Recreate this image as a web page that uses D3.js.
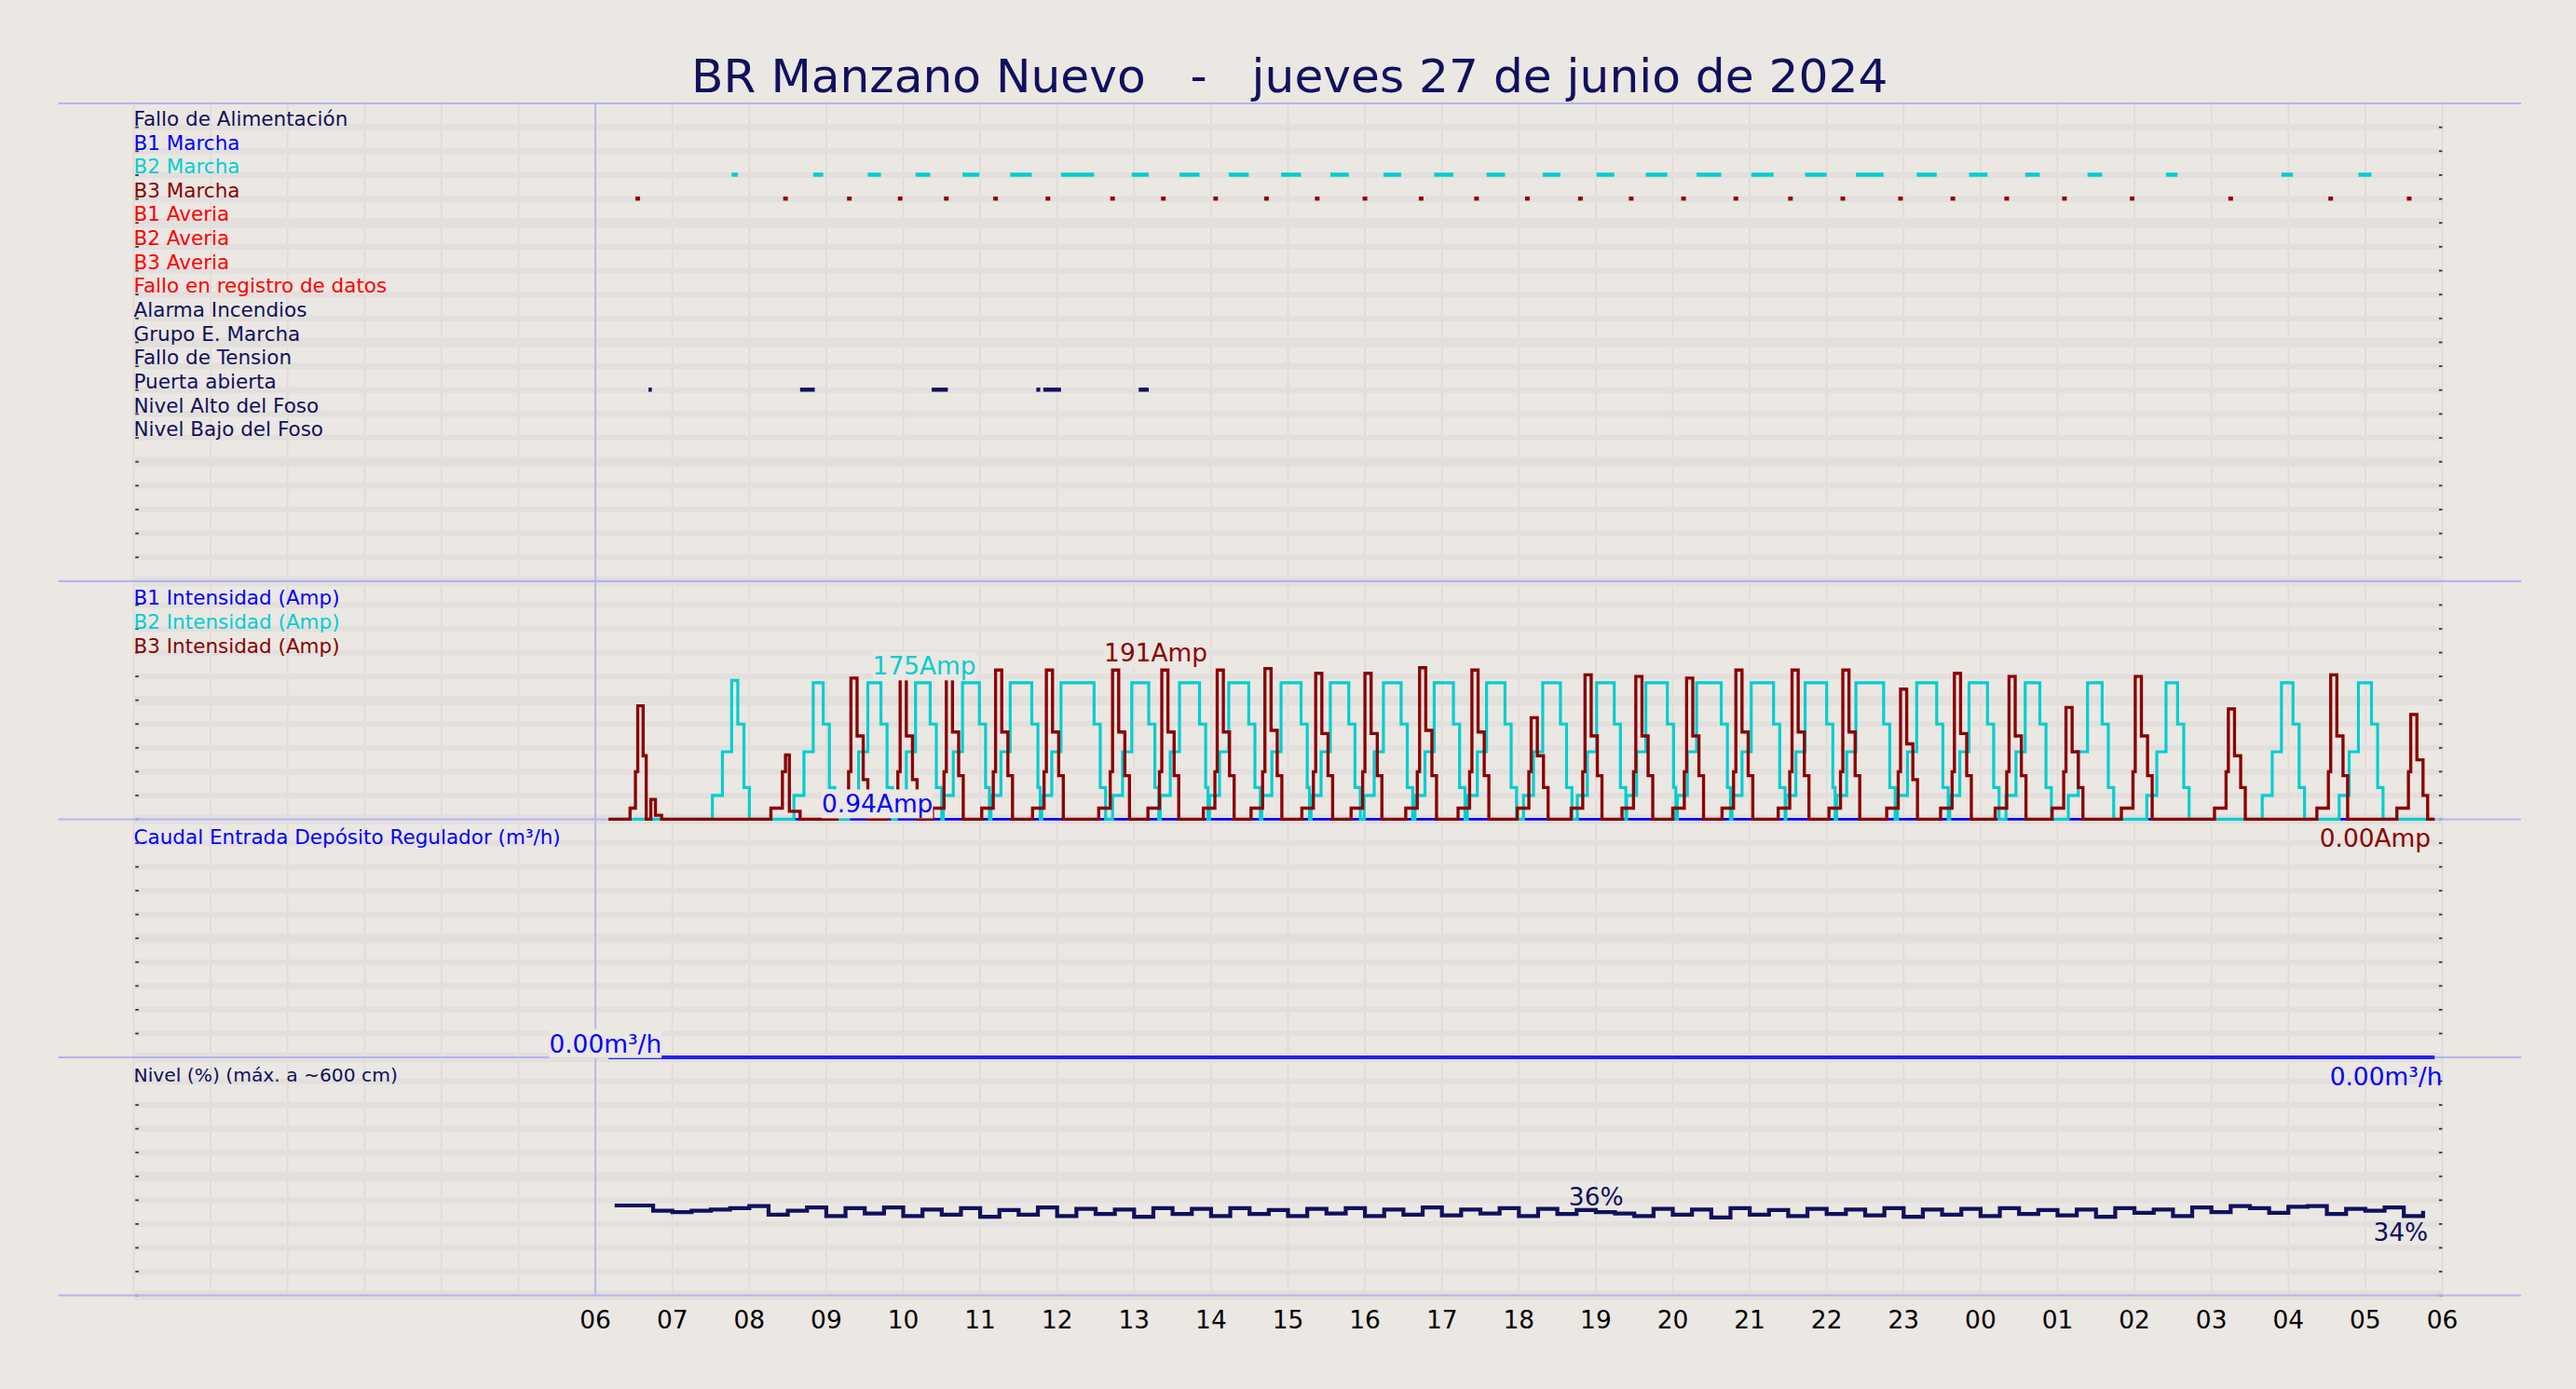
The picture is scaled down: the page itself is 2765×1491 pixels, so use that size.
<!DOCTYPE html>
<html>
<head>
<meta charset="utf-8">
<script src="https://cdn.jsdelivr.net/npm/d3@7"></script>
<style>
  html, body { margin: 0; padding: 0; background: #ebe7e2; }
  svg { display: block; font-family: "DejaVu Sans", sans-serif; }
</style>
</head>
<body>
<svg id="chart" width="2765" height="1491" viewBox="0 0 1568 846"></svg>
<script>
// hours since 00:00 of 27 June
const hourTicks = d3.range(6, 31);

const signalNames = ["Fallo de Alimentación", "B1 Marcha", "B2 Marcha", "B3 Marcha", "B1 Averia", "B2 Averia",
  "B3 Averia", "Fallo en registro de datos", "Alarma Incendios", "Grupo E. Marcha", "Fallo de Tension",
  "Puerta abierta", "Nivel Alto del Foso", "Nivel Bajo del Foso"];
const signalColors = ["#10105e", "#0000ff", "#00ced1", "#8b0000", "#ff0000", "#ff0000", "#ff0000", "#ff0000",
  "#10105e", "#10105e", "#10105e", "#10105e", "#10105e", "#10105e"];

// on-intervals [start, end] in hours
const b2Marcha = [[7.77,7.85],[8.83,8.96],[9.54,9.71],[10.16,10.35],[10.77,10.99],[11.39,11.67],[12.05,12.48],
  [12.97,13.19],[13.59,13.85],[14.23,14.49],[14.91,15.17],[15.55,15.79],[16.24,16.47],[16.90,17.15],[17.58,17.82],
  [18.31,18.54],[19.01,19.24],[19.65,19.93],[20.31,20.63],[21.02,21.31],[21.72,22.00],[22.38,22.74],[23.17,23.43],
  [23.85,24.09],[24.58,24.77],[25.39,25.58],[26.41,26.56],[27.91,28.06],[28.91,29.08]];
const b3Marcha = [[6.52,6.58],[8.44,8.50],[9.27,9.33],[9.93,9.99],[10.53,10.59],[11.17,11.23],[11.85,11.91],
  [12.69,12.75],[13.35,13.41],[14.03,14.09],[14.69,14.75],[15.35,15.41],[15.97,16.03],[16.70,16.76],[17.42,17.48],
  [18.08,18.14],[18.77,18.83],[19.43,19.49],[20.11,20.17],[20.79,20.85],[21.50,21.56],[22.18,22.24],[22.93,22.99],
  [23.61,23.67],[24.31,24.37],[25.06,25.12],[25.94,26.00],[27.22,27.28],[28.52,28.58],[29.54,29.60]];
const puerta = [[6.69,6.73],[8.66,8.85],[10.37,10.58],[11.73,11.78],[11.82,12.05],[13.06,13.19]];

// intensity (Amp), step points "hour:value"
const b1Amp = "6.17:0 29.9:0";
const b2Amp = "6.17:0 7.52:30 7.65:85 7.77:175 7.85:120 7.93:40 8.00:0 " +
  "8.58:30 8.71:85 8.83:172 8.96:120 9.04:40 9.11:0 9.29:30 9.42:85 9.54:172 9.71:120 9.79:40 9.86:0 " +
  "9.91:30 10.04:85 10.16:172 10.35:120 10.43:40 10.50:0 10.52:30 10.65:85 10.77:172 10.99:120 11.07:40 11.12:0 " +
  "11.14:30 11.27:85 11.39:172 11.67:120 11.75:40 11.78:0 11.80:30 11.93:85 12.05:172 12.48:120 12.56:40 12.63:0 " +
  "12.72:30 12.85:85 12.97:172 13.19:120 13.27:40 13.32:0 13.34:30 13.47:85 13.59:172 13.85:120 13.93:40 13.96:0 " +
  "13.98:30 14.11:85 14.23:172 14.49:120 14.57:40 14.64:0 14.66:30 14.79:85 14.91:172 15.17:120 15.25:40 15.28:0 " +
  "15.30:30 15.43:85 15.55:172 15.79:120 15.87:40 15.94:0 15.99:30 16.12:85 16.24:172 16.47:120 16.55:40 16.62:0 " +
  "16.65:30 16.78:85 16.90:172 17.15:120 17.23:40 17.30:0 17.33:30 17.46:85 17.58:172 17.82:120 17.90:40 17.97:0 " +
  "18.06:30 18.19:85 18.31:172 18.54:120 18.62:40 18.69:0 18.76:30 18.89:85 19.01:172 19.24:120 19.32:40 19.39:0 " +
  "19.40:30 19.53:85 19.65:172 19.93:120 20.01:40 20.04:0 20.06:30 20.19:85 20.31:172 20.63:120 20.71:40 20.75:0 " +
  "20.77:30 20.90:85 21.02:172 21.31:120 21.39:40 21.46:0 21.47:30 21.60:85 21.72:172 22.00:120 22.08:40 22.11:0 " +
  "22.13:30 22.26:85 22.38:172 22.74:120 22.82:40 22.89:0 22.92:30 23.05:85 23.17:172 23.43:120 23.51:40 23.58:0 " +
  "23.60:30 23.73:85 23.85:172 24.09:120 24.17:40 24.24:0 24.33:30 24.46:85 24.58:172 24.77:120 24.85:40 24.92:0 " +
  "25.14:30 25.27:85 25.39:172 25.58:120 25.66:40 25.73:0 26.16:30 26.29:85 26.41:172 26.56:120 26.64:40 26.71:0 " +
  "27.66:30 27.79:85 27.91:172 28.06:120 28.14:40 28.21:0 28.66:30 28.79:85 28.91:172 29.08:120 29.16:40 29.23:0 29.9:0";
const b3Amp = "6.17:0 6.45:14 6.52:60 6.55:143 6.62:80 6.66:0 6.72:25 6.78:5 6.86:0 " +
  "8.28:14 8.43:60 8.47:81 8.52:10 8.66:0 9.14:14 9.29:60 9.32:178 9.40:105 9.48:50 9.54:0 " +
  "9.78:14 9.93:60 9.96:178 10.04:105 10.12:50 10.18:0 10.38:14 10.53:60 10.56:188 10.64:110 10.72:55 10.78:0 " +
  "11.02:14 11.17:60 11.20:188 11.28:110 11.36:55 11.42:0 11.68:14 11.83:60 11.86:188 11.94:110 12.02:55 12.08:0 " +
  "12.54:14 12.69:60 12.72:188 12.80:110 12.88:55 12.94:0 13.18:14 13.33:60 13.36:188 13.44:110 13.52:55 13.58:0 " +
  "13.90:14 14.05:60 14.08:188 14.16:110 14.24:55 14.30:0 14.52:14 14.67:60 14.70:190 14.78:112 14.86:55 14.92:0 " +
  "15.18:14 15.33:60 15.36:184 15.44:108 15.52:55 15.58:0 15.82:14 15.97:60 16.00:184 16.08:108 16.16:55 16.22:0 " +
  "16.53:14 16.68:60 16.71:191 16.79:112 16.87:55 16.93:0 17.21:14 17.36:60 17.39:188 17.47:110 17.55:55 17.61:0 " +
  "17.98:14 18.13:60 18.16:128 18.24:80 18.32:40 18.38:0 18.68:14 18.83:60 18.86:182 18.94:105 19.02:55 19.08:0 " +
  "19.34:14 19.49:60 19.52:180 19.60:105 19.68:55 19.74:0 20.00:14 20.15:60 20.18:178 20.26:105 20.34:55 20.40:0 " +
  "20.64:14 20.79:60 20.82:188 20.90:110 20.98:55 21.04:0 21.37:14 21.52:60 21.55:188 21.63:110 21.71:55 21.77:0 " +
  "22.03:14 22.18:60 22.21:188 22.29:110 22.37:55 22.43:0 22.78:14 22.93:60 22.96:164 23.04:95 23.12:50 23.18:0 " +
  "23.48:14 23.63:60 23.66:184 23.74:108 23.82:55 23.88:0 24.19:14 24.34:60 24.37:180 24.45:105 24.53:55 24.59:0 " +
  "24.93:14 25.08:60 25.11:141 25.19:85 25.27:40 25.33:0 25.83:14 25.98:60 26.01:180 26.09:105 26.17:55 26.23:0 " +
  "27.04:14 27.19:60 27.22:139 27.30:80 27.38:40 27.44:0 28.37:14 28.52:60 28.55:182 28.63:105 28.71:55 28.77:0 " +
  "29.41:14 29.56:60 29.59:132 29.67:75 29.75:30 29.81:0 29.9:0";

const caudal = "6.17:0 29.9:0";

// level %, one reading every 15 min from 06:15
const levelStart = 6.25;
const levelValues = [36.6,36.6,35.8,35.6,35.8,36.0,36.2,36.5,35.2,35.8,36.3,35.0,36.2,35.4,36.3,35.0,36.0,35.2,
  36.2,34.9,35.9,35.2,36.3,35.0,36.1,35.3,36.0,34.9,36.2,35.3,36.1,35.0,36.2,35.3,35.9,35.0,36.1,35.4,36.2,35.0,
  36.0,35.2,36.3,35.1,36.0,35.4,36.2,35.0,36.1,35.3,35.9,35.6,35.4,35.0,36.1,35.2,36.0,34.8,36.2,35.2,35.9,35.0,
  36.1,35.3,36.0,35.1,36.2,34.9,36.0,35.2,36.1,35.0,36.2,35.3,35.9,35.1,36.0,34.9,36.2,35.5,36.0,35.0,36.3,35.6,
  36.5,36.2,35.5,36.4,36.5,35.3,36.1,35.8,36.3,35.0,35.8];

const parse = s => s.trim().split(/\s+/).map(p => p.split(":").map(Number));

const svg = d3.select("#chart");
const navy = "#10105e";
const x = d3.scaleLinear().domain([0, 30]).range([81, 1487]);

svg.append("text").attr("x", 785).attr("y", 56).attr("text-anchor", "middle")
  .attr("font-size", 28.5).attr("fill", navy).attr("xml:space", "preserve")
  .text("BR Manzano Nuevo   -   jueves 27 de junio de 2024");

const panels = [
  { top: 63, bottom: 354, rows: 20 },
  { top: 354, bottom: 499, rows: 10 },
  { top: 499, bottom: 644, rows: 10 },
  { top: 644, bottom: 789, rows: 10 }
];

// grid
svg.append("g").selectAll("line").data(d3.range(0, 31)).join("line")
  .attr("x1", d => x(d)).attr("x2", d => x(d)).attr("y1", 63).attr("y2", 789)
  .attr("stroke", "#e0dbd8").attr("stroke-width", 1);

panels.forEach(p => {
  const rh = (p.bottom - p.top) / p.rows;
  const g = svg.append("g");
  g.selectAll("line").data(d3.range(1, p.rows + 1)).join("line")
    .attr("x1", 81).attr("x2", 1487)
    .attr("y1", d => p.top + d * rh).attr("y2", d => p.top + d * rh)
    .attr("stroke", "#e3dfdd").attr("stroke-width", d => d % 5 === 0 ? 6 : 3.5);
  g.selectAll("rect.l").data(d3.range(1, p.rows + 1)).join("rect")
    .attr("x", 82).attr("y", d => p.top + d * rh - 0.5).attr("width", 2).attr("height", 1).attr("fill", "#333");
  g.selectAll("rect.r").data(d3.range(1, p.rows + 1)).join("rect")
    .attr("x", 1485).attr("y", d => p.top + d * rh - 0.5).attr("width", 2).attr("height", 1).attr("fill", "#333");
});

svg.append("g").selectAll("line").data([63, 354, 499, 644, 789]).join("line")
  .attr("x1", 35).attr("x2", 1535).attr("y1", d => d).attr("y2", d => d)
  .attr("stroke", "#b4b4f0").attr("stroke-width", 1.2);
svg.append("line").attr("x1", x(6)).attr("x2", x(6)).attr("y1", 63).attr("y2", 789)
  .attr("stroke", "#b4b4f0").attr("stroke-width", 1);

// x axis labels
svg.append("g").selectAll("text").data(hourTicks).join("text")
  .attr("x", d => x(d)).attr("y", 809).attr("text-anchor", "middle")
  .attr("font-size", 15).attr("fill", "#000")
  .text(d => String(d % 24).padStart(2, "0"));

// panel 1: signals
const rowH = (354 - 63) / 20;
const rowY = i => 63 + (i + 1) * rowH;
svg.append("g").selectAll("text").data(signalNames).join("text")
  .attr("x", 81).attr("y", (d, i) => rowY(i) - 1)
  .attr("font-size", 12.2).attr("fill", (d, i) => signalColors[i]).text(d => d);

function drawMarks(data, row, color) {
  svg.append("g").selectAll("rect").data(data).join("rect")
    .attr("x", d => x(d[0])).attr("width", d => Math.max(2, x(d[1]) - x(d[0])))
    .attr("y", rowY(row) - 1.5).attr("height", 2.5).attr("fill", color);
}
drawMarks(b2Marcha, 2, "#00ced1");
drawMarks(b3Marcha, 3, "#8b0000");
drawMarks(puerta, 11, navy);

// panel 2: intensity
const yAmp = d3.scaleLinear().domain([0, 300]).range([499, 354]);
const ampLine = d3.line().x(d => x(d[0])).y(d => yAmp(d[1])).curve(d3.curveStepAfter);
[["B1 Intensidad (Amp)", "#0000ff"], ["B2 Intensidad (Amp)", "#00ced1"], ["B3 Intensidad (Amp)", "#8b0000"]]
  .forEach((l, i) => svg.append("text").attr("x", 81).attr("y", 368.5 + i * 14.6)
    .attr("font-size", 12.2).attr("fill", l[1]).text(l[0]));
svg.append("path").datum(parse(b1Amp)).attr("d", ampLine).attr("fill", "none").attr("stroke", "#0000ff").attr("stroke-width", 1.5);
svg.append("path").datum(parse(b2Amp)).attr("d", ampLine).attr("fill", "none").attr("stroke", "#00ced1").attr("stroke-width", 1.8);
svg.append("path").datum(parse(b3Amp)).attr("d", ampLine).attr("fill", "none").attr("stroke", "#8b0000").attr("stroke-width", 1.9);

function label(txt, xx, yy, color, anchor, bg) {
  const t = svg.append("text").attr("x", xx).attr("y", yy).attr("font-size", 15)
    .attr("fill", color).attr("text-anchor", anchor || "start").text(txt);
  if (bg) {
    const b = t.node().getBBox();
    svg.insert("rect", () => t.node()).attr("x", b.x).attr("y", b.y)
      .attr("width", b.width).attr("height", b.height).attr("fill", "#ebe7e2");
  }
}
label("175Amp", 531, 411, "#00ced1", "start", true);
label("191Amp", 672, 403, "#8b0000", "start", true);
label("0.94Amp", 500, 495, "#0000ff", "start", true);
label("0.00Amp", 1480, 516, "#8b0000", "end");

// panel 3: caudal
const yQ = d3.scaleLinear().domain([0, 100]).range([644, 499]);
svg.append("text").attr("x", 81).attr("y", 514).attr("font-size", 12.2).attr("fill", "#0000ff")
  .text("Caudal Entrada Depósito Regulador (m³/h)");
svg.append("path").datum(parse(caudal)).attr("d", d3.line().x(d => x(d[0])).y(d => yQ(d[1])))
  .attr("fill", "none").attr("stroke", "#2222ee").attr("stroke-width", 2.2);
label("0.00m³/h", 334, 641, "#0000ff", "start", true);
label("0.00m³/h", 1487, 661, "#0000ff", "end");

// panel 4: level
const yLev = d3.scaleLinear().domain([23, 59]).range([789, 644]);
svg.append("text").attr("x", 81).attr("y", 659).attr("font-size", 11.5).attr("fill", navy)
  .text("Nivel (%) (máx. a ~600 cm)");
const levelPts = levelValues.map((v, i) => [levelStart + i * 0.25, v]);
svg.append("path").datum(levelPts)
  .attr("d", d3.line().x(d => x(d[0])).y(d => yLev(d[1])).curve(d3.curveStepAfter))
  .attr("fill", "none").attr("stroke", navy).attr("stroke-width", 2.4);
label("36%", 955, 734, navy);
label("34%", 1445, 756, navy);
</script>
</body>
</html>
